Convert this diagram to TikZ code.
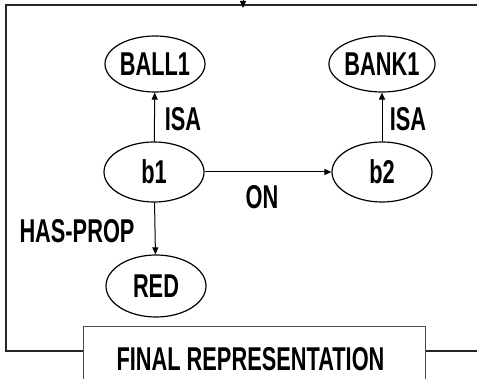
\documentclass[tikz,border=0pt]{standalone}
\usepackage{fontspec}
\setmainfont[FakeStretch=0.66]{Liberation Sans}
\usetikzlibrary{shapes.geometric,arrows.meta}
\begin{document}
\begin{tikzpicture}[x=1pt,y=-1pt,
  oval/.style={draw,line width=1.2pt,ellipse,inner sep=0pt,minimum width=100pt,minimum height=56pt,font=\fontsize{33}{33}\selectfont\bfseries},
  lbl/.style={font=\fontsize{33}{33}\selectfont\bfseries,inner sep=0pt},
  conn/.style={line width=1pt,-{Triangle[width=6pt,length=7pt]}},
  frame/.style={line width=1.6pt,draw=black!85}
]
\useasboundingbox (0,0) rectangle (477,379);
\begin{scope}
\clip (0,0) rectangle (477,379);
\node[oval] (ball) at (155,64) {BALL1};
\node[oval] (bank) at (382,64) {BANK1};
\node[oval,minimum height=60pt] (b1) at (154,172) {b1};
\node[oval,minimum height=60pt] (b2) at (382,172) {b2};
\node[oval,minimum height=62pt] (red) at (156,286) {RED};
\draw[conn] (b1) -- (ball);
\node[lbl] (isa1) at (183,119) {ISA};
\draw[conn] (b2) -- (bank);
\node[lbl] (isa2) at (408,119) {ISA};
\draw[conn] (b1) -- (b2);
\node[lbl] (on) at (262,197) {ON};
\draw[conn] (b1) -- (red);
\node[lbl] (hp) at (77,231) {HAS-PROP};
\node[draw=black!70,line width=1pt,minimum width=342pt,minimum height=80pt,anchor=north west,inner sep=0pt] (fin) at (83,326) {};
\node[lbl] (fintext) at (250.5,359) {FINAL REPRESENTATION};
\coordinate (tl) at (6,5);
\coordinate (tr) at (480,5);
\coordinate (rr) at (480,351);
\coordinate (up) at (243,-8);
\coordinate (tip) at (243,8);
\draw[frame] (fin.west |- 0,351) -| (tl) -- (tr);
\draw[frame] (fin.east |- 0,351) -- (rr);
\draw[line width=1pt,-{Triangle[width=6pt,length=7pt]}] (up) -- (tip);
\end{scope}
\end{tikzpicture}
\end{document}
